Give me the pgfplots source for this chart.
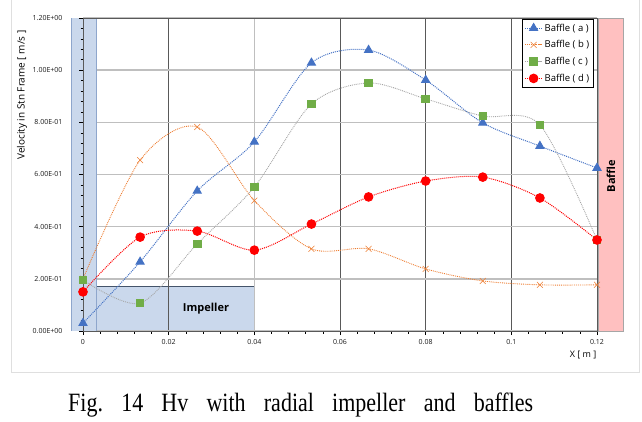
\documentclass[border=0pt]{standalone}
\usepackage{pgfplots}
\pgfplotsset{compat=1.18}
\usepackage{fontspec}
\setmainfont{Open Sans}
\newfontfamily\capfont{Liberation Serif}
\definecolor{sa}{HTML}{4472C4}
\definecolor{sb}{HTML}{ED7D31}
\definecolor{sc}{HTML}{70AD47}
\definecolor{scl}{HTML}{A5A5A5}
\definecolor{sd}{HTML}{FF0000}
\definecolor{stripfill}{HTML}{CAD8EC}
\definecolor{stripedge}{HTML}{8EA6CC}
\definecolor{boxedge}{HTML}{44546A}
\definecolor{pinkfill}{HTML}{FFC0C0}
\definecolor{darkgrid}{HTML}{595959}
\definecolor{lightgrid}{HTML}{BFBFBF}
\pgfdeclarelayer{shapes}
\pgfplotsset{
  layers/mylayers/.define layer set={
    axis background,axis grid,shapes,axis ticks,axis lines,axis tick labels,main,axis descriptions,axis foreground
  }{/pgfplots/layers/standard},
}
\pgfplotstableread{
x       a      b      c      d
0       0.030  0.200  0.196  0.150
0.01333 0.265  0.655  0.107  0.360
0.02667 0.537  0.782  0.334  0.383
0.04    0.725  0.500  0.552  0.310
0.05333 1.028  0.315  0.870  0.410
0.06667 1.077  0.315  0.951  0.514
0.08    0.962  0.238  0.890  0.575
0.09333 0.798  0.192  0.824  0.590
0.10667 0.709  0.177  0.790  0.510
0.12    0.625  0.177  0.349  0.349
}\datatable
\begin{document}
\begin{tikzpicture}[x=1pt,y=1pt]
\draw[gray!25, line width=0.8pt] (11,421) -- (11,49) -- (639,49) -- (639,421);
\begin{axis}[
  set layers=mylayers,
  at={(83pt,90pt)}, anchor=south west,
  scale only axis, width=514pt, height=313pt,
  xmin=0, xmax=0.12, ymin=0, ymax=1.2,
  clip=false,
  xtick={0,0.02,0.04,0.06,0.08,0.1,0.12},
  xticklabels={0,0.02,0.04,0.06,0.08,0.1,0.12},
  ytick={0,0.2,0.4,0.6,0.8,1.0,1.2},
  yticklabels={0.00E+00,2.00E-01,4.00E-01,6.00E-01,8.00E-01,1.00E+00,1.20E+00},
  minor x tick num=4, minor y tick num=4,
  xtick pos=bottom, ytick pos=left,
  tick align=outside,
  major tick length=4pt, minor tick length=2.5pt,
  tick style={black, line width=0.5pt},
  xmajorgrids, ymajorgrids,
  x grid style={darkgrid, line width=0.6pt},
  y grid style={lightgrid, line width=1.6pt},
  axis line style={darkgrid, line width=0.6pt},
  ticklabel style={font=\fontsize{7}{8}\selectfont, text=black!90},
  yticklabel style={xshift=-13pt},
  xticklabel style={yshift=-1pt},
  legend style={at={(rel axis cs:0.994,0.997)}, anchor=north east, draw=black, line width=0.6pt,
    font=\fontsize{9.5}{10}\selectfont, row sep=4pt, inner sep=2.5pt, cells={anchor=west}},
  legend cell align=left,
]
\begin{pgfonlayer}{axis background}
  \fill[stripfill] (axis cs:0.00304,0) rectangle (axis cs:0.04,0.17);
  \draw[boxedge, line width=0.7pt] (axis cs:0.00304,0.17) -- (axis cs:0.04,0.17);
\end{pgfonlayer}
\begin{pgfonlayer}{shapes}
  \fill[stripfill] (axis cs:-0.0028,0) rectangle (axis cs:0.00304,1.2);
  \draw[stripedge, line width=0.7pt] (axis cs:-0.0028,0) -- (axis cs:-0.0028,1.2);
  \draw[stripedge, line width=0.7pt] (axis cs:0.00304,0) -- (axis cs:0.00304,1.2);
  \draw[lightgrid, line width=1.6pt] (axis cs:0.04,0) -- (axis cs:0.04,1.2);
  \filldraw[fill=pinkfill, draw=gray!70, line width=0.6pt] (axis cs:0.1203,0) rectangle (axis cs:0.1261,1.2);
  \draw[black, line width=0.8pt] (axis cs:0,0) -- (axis cs:0,1.2);
\end{pgfonlayer}
\addplot[sa, densely dotted, line width=1pt, smooth, tension=0.5, mark=triangle*, mark size=4.6pt, mark options={solid, fill=sa, draw=sa}] table[x=x,y=a]{\datatable};
\addlegendentry{Baffle ( a )}
\addplot[sb, densely dotted, line width=0.9pt, smooth, tension=0.5, mark=x, mark size=4.2pt, mark options={solid, line width=0.5pt}] table[x=x,y=b]{\datatable};
\addlegendentry{Baffle ( b )}
\addplot[scl, densely dotted, line width=0.9pt, smooth, tension=0.5, mark=square*, mark size=3.8pt, mark options={solid, fill=sc, draw=sc}] table[x=x,y=c]{\datatable};
\addlegendentry{Baffle ( c )}
\addplot[sd, densely dotted, line width=1pt, smooth, tension=0.5, mark=*, mark size=4.3pt, mark options={solid, fill=sd, draw=sd}] table[x=x,y=d]{\datatable};
\addlegendentry{Baffle ( d )}
\end{axis}
\node[font=\fontsize{11}{13}\selectfont\bfseries] at (206,112) {Impeller};
\node[font=\fontsize{11}{13}\selectfont\bfseries, rotate=90] at (611,245) {Baffle};
\node[font=\fontsize{10}{12}\selectfont, rotate=90] at (22,326) {Velocity in Stn Frame [ m/s ]};
\node[font=\fontsize{9}{11}\selectfont] at (583,66) {X [ m ]};
\node[anchor=base west, inner sep=0pt, font=\capfont\fontsize{22}{26}\selectfont] at (68,10) {\scalebox{1}[1.2]{\makebox[465pt][s]{Fig.\ 14 Hv with radial impeller and baffles}}};
\pgfresetboundingbox
\useasboundingbox (0,0) rectangle (642,421);
\end{tikzpicture}
\end{document}
